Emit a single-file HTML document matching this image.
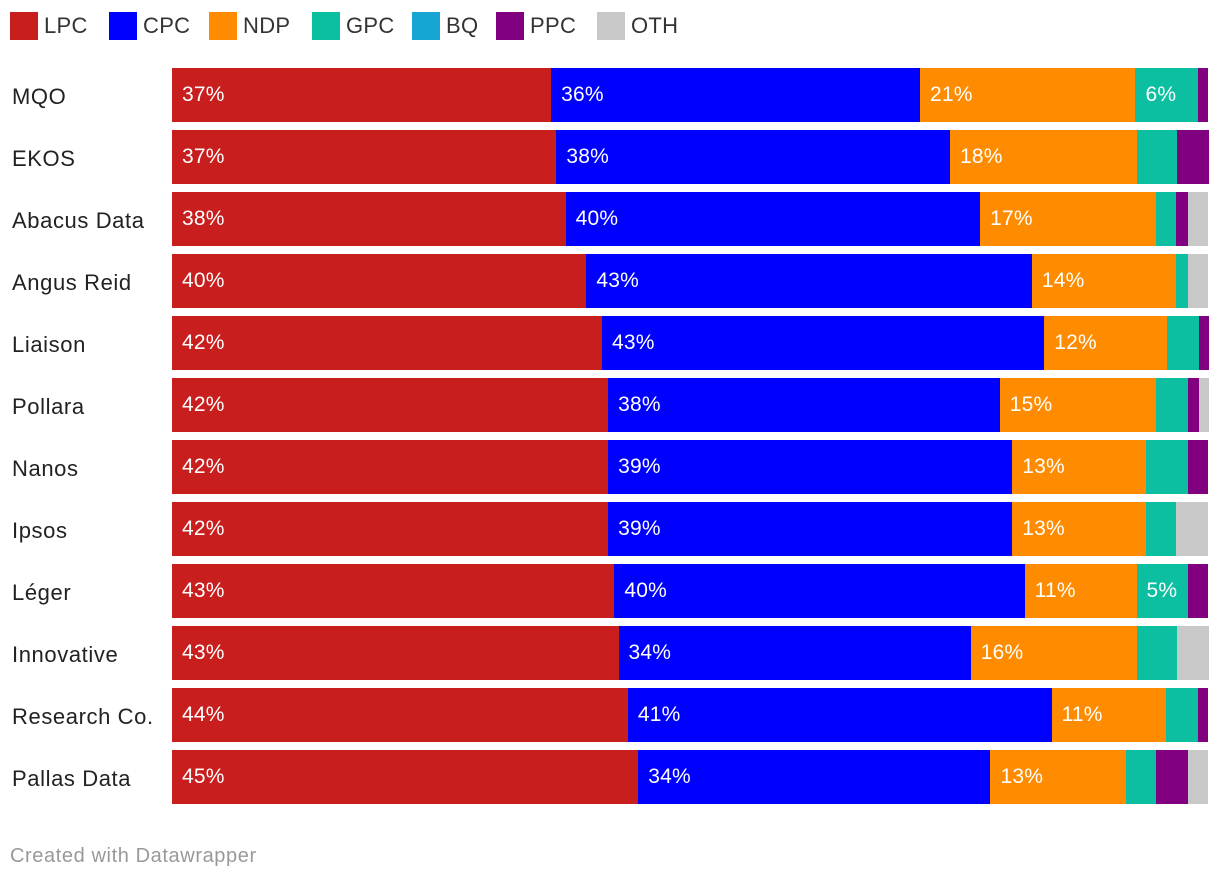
<!DOCTYPE html>
<html><head><meta charset="utf-8">
<style>
body{margin:0;background:#fff;font-family:"Liberation Sans",sans-serif;}
#wrap{position:relative;width:1220px;height:882px;overflow:hidden;}
.leg{position:absolute;top:12px;display:flex;align-items:center;font-size:22px;color:#333;letter-spacing:0.3px;}
.sw{width:28px;height:28px;margin-right:6px;}
.lab{position:absolute;left:12px;font-size:22px;color:#222;letter-spacing:0.6px;}
.seg{position:absolute;height:54px;}
.val{position:absolute;font-size:21px;color:#fff;line-height:54px;letter-spacing:0.2px;}
#foot{position:absolute;left:10px;top:845px;font-size:20px;color:#999;letter-spacing:0.6px;}
</style></head>
<body><div id="wrap">
<div id="legend"></div>
<div id="bars"></div>
<div id="foot">Created with Datawrapper</div>
</div>
<script>
const pollsters=["MQO","EKOS","Abacus Data","Angus Reid","Liaison","Pollara","Nanos","Ipsos","Léger","Innovative","Research Co.","Pallas Data"];
const parties=["LPC","CPC","NDP","GPC","BQ","PPC","OTH"];
const colors=["#c91e1e","#0000ff","#ff8c00","#0bbfa0","#17a6d4","#800080","#c8c8c8"];
const LPC=[36.6,37.1,38.0,40.0,41.5,42.1,42.1,42.1,42.7,43.1,44.0,45.0];
const CPC=[35.6,38.0,40.0,43.0,42.7,37.8,39.0,39.0,39.6,34.0,40.9,34.0];
const NDP=[20.8,18.0,17.0,13.9,11.8,15.1,12.9,12.9,10.8,16.0,11.0,13.1];
const GPC=[6.0,3.9,1.9,1.2,3.1,3.1,4.1,2.9,5.0,3.9,3.1,2.9];
const BQ=[0,0,0,0,0,0,0,0,0,0,0,0];
const PPC=[1.0,3.1,1.2,0,1.0,1.0,1.9,0,1.9,0,1.0,3.1];
const OTH=[0,0,1.9,1.9,0,1.0,0,3.1,0,3.1,0,1.9];
const series=[LPC,CPC,NDP,GPC,BQ,PPC,OTH];
const legendX=[10,109,209,312,412,496,597];
const X0=172,W=1036;
const x=v=>v*W/100;
const rowY=i=>68+i*62;
const lg=document.getElementById('legend');
parties.forEach((p,k)=>{
 const d=document.createElement('div');d.className='leg';d.style.left=legendX[k]+'px';
 
 
 d.innerHTML='<div class="sw" style="background:'+colors[k]+'"></div>'+p;
 lg.appendChild(d);
});
const bars=document.getElementById('bars');
pollsters.forEach((name,i)=>{
 const y=rowY(i);
 const l=document.createElement('div');l.className='lab';l.textContent=name;
 l.style.top=(y+16)+'px';
 
 
 bars.appendChild(l);
 let acc=0;
 series.forEach((s,k)=>{
  const v=s[i];if(v<=0)return;
  const s0=X0+x(acc),w=x(v);acc+=v;
  const d=document.createElement('div');d.className='seg';
  d.style.left=s0+'px';d.style.top=y+'px';d.style.width=w+'px';d.style.background=colors[k];
  
  
  bars.appendChild(d);
  if(w>=50){
   const t=document.createElement('div');t.className='val';t.textContent=Math.round(v)+'%';
   t.style.left=(s0+10)+'px';t.style.top=y+'px';
   
   
   bars.appendChild(t);
  }
 });
});
</script></body></html>
